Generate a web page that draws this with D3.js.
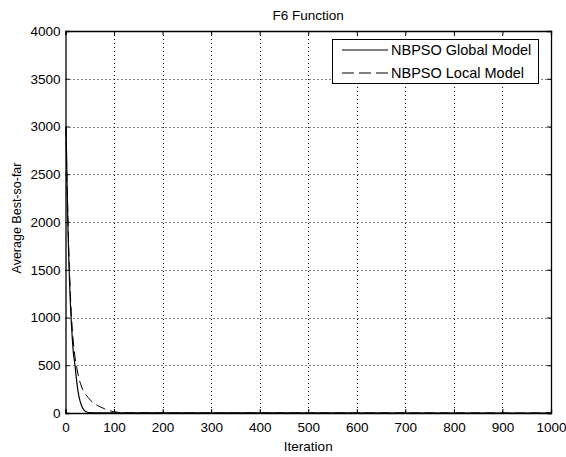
<!DOCTYPE html>
<html>
<head>
<meta charset="utf-8">
<script src="https://cdn.jsdelivr.net/npm/d3@7"></script>
<style>
  html, body { margin: 0; padding: 0; background: #fff; }
  svg { display: block; font-family: "Liberation Sans", Arial, sans-serif; }
</style>
</head>
<body>
<svg id="chart" width="566" height="457"></svg>
<script>
// Average best-so-far fitness over iterations for the F6 function
const globalIter = [1, 2, 3, 4, 5, 6, 7, 8, 9, 10, 12, 14, 16, 18, 20, 22, 24, 26, 28, 30, 33, 36, 40, 45, 50, 60, 100, 1000];
const globalBest = [3000, 2750, 2450, 2200, 1950, 1750, 1580, 1430, 1280, 1150, 950, 780, 640, 560, 480, 380, 290, 220, 165, 125, 78, 45, 20, 8, 3, 1, 0.5, 0.1];

const localIter = [1, 2, 3, 4, 5, 6, 7, 8, 10, 12, 14, 16, 18, 20, 23, 26, 30, 35, 40, 46, 52, 60, 71, 80, 90, 98, 110, 130, 200, 1000];
const localBest = [3000, 2700, 2450, 2250, 2050, 1850, 1680, 1520, 1250, 1030, 870, 750, 650, 570, 480, 400, 320, 250, 205, 165, 130, 95, 66, 45, 26, 14, 6, 2, 0.5, 0.1];

const xTicks = [0, 100, 200, 300, 400, 500, 600, 700, 800, 900, 1000];
const yTicks = [0, 500, 1000, 1500, 2000, 2500, 3000, 3500, 4000];

const seriesNames = ["NBPSO Global Model", "NBPSO Local Model"];
const titleText = "F6 Function";
const xLabel = "Iteration";
const yLabel = "Average Best-so-far";

const svg = d3.select("#chart");
const plotLeft = 65.5, plotRight = 551, plotTop = 31, plotBottom = 413;

const x = d3.scaleLinear().domain([0, 1000]).range([plotLeft, plotRight]);
const y = d3.scaleLinear().domain([0, 4000]).range([plotBottom, plotTop]);

// dotted grid at interior ticks
const grid = svg.append("g").attr("stroke", "#000").attr("stroke-width", 1).attr("stroke-dasharray", "1,3");
grid.selectAll("line.gx").data(xTicks.slice(1, -1)).join("line")
  .attr("x1", d => Math.round(x(d)) + 0.5).attr("x2", d => Math.round(x(d)) + 0.5)
  .attr("y1", plotTop).attr("y2", plotBottom);
grid.selectAll("line.gy").data(yTicks.slice(1, -1)).join("line")
  .attr("y1", d => Math.round(y(d)) + 0.5).attr("y2", d => Math.round(y(d)) + 0.5)
  .attr("x1", plotLeft).attr("x2", plotRight);

// axes with inward ticks, mirrored on top and right
const fontSize = 13.5;
const xAxis = d3.axisBottom(x).tickValues(xTicks).tickSize(-4).tickPadding(9).tickFormat(d3.format("d"));
const yAxis = d3.axisLeft(y).tickValues(yTicks).tickSize(-4).tickPadding(5).tickFormat(d3.format("d"));

const gx = svg.append("g").attr("transform", `translate(0,${plotBottom})`).call(xAxis);
const gy = svg.append("g").attr("transform", `translate(${plotLeft},0)`).call(yAxis);
const gxTop = svg.append("g").attr("transform", `translate(0,${plotTop})`)
  .call(d3.axisTop(x).tickValues(xTicks).tickSize(-4).tickFormat(""));
const gyRight = svg.append("g").attr("transform", `translate(${plotRight},0)`)
  .call(d3.axisRight(y).tickValues(yTicks).tickSize(-4).tickFormat(""));

[gx, gy, gxTop, gyRight].forEach(g => {
  g.select(".domain").attr("stroke", "#000").attr("stroke-width", 1.3);
  g.selectAll(".tick line").attr("stroke", "#000");
  g.selectAll(".tick text").attr("fill", "#000").attr("font-size", fontSize)
    .attr("font-family", "Liberation Sans, Arial, sans-serif");
});

// curves
const line = d3.line().x(d => x(d[0])).y(d => y(d[1]));
const globalData = d3.zip(globalIter, globalBest);
const localData = d3.zip(localIter, localBest);

svg.append("path").datum(localData).attr("d", line)
  .attr("fill", "none").attr("stroke", "#000").attr("stroke-width", 1)
  .attr("stroke-dasharray", "10,5");
svg.append("path").datum(globalData).attr("d", line)
  .attr("fill", "none").attr("stroke", "#000").attr("stroke-width", 1.2);

// title and axis labels
svg.append("text").attr("x", (plotLeft + plotRight) / 2).attr("y", 20)
  .attr("text-anchor", "middle").attr("font-size", fontSize).text(titleText);
svg.append("text").attr("x", (plotLeft + plotRight) / 2).attr("y", 451)
  .attr("text-anchor", "middle").attr("font-size", fontSize).text(xLabel);
svg.append("text").attr("transform", `translate(21,218) rotate(-90)`)
  .attr("text-anchor", "middle").attr("font-size", 12.5).text(yLabel);

// legend
const lg = svg.append("g");
lg.append("rect").attr("x", 332.5).attr("y", 39.5).attr("width", 206).attr("height", 44)
  .attr("fill", "#fff").attr("stroke", "#000").attr("stroke-width", 1);
const rows = [{ name: seriesNames[0], dash: null, yy: 50 }, { name: seriesNames[1], dash: "12,5", yy: 73 }];
rows.forEach(r => {
  lg.append("line").attr("x1", 342).attr("x2", 388).attr("y1", r.yy).attr("y2", r.yy)
    .attr("stroke", "#000").attr("stroke-width", 1).attr("stroke-dasharray", r.dash);
  lg.append("text").attr("x", 391).attr("y", r.yy + 5).attr("font-size", 14.5).text(r.name);
});
</script>
</body>
</html>
